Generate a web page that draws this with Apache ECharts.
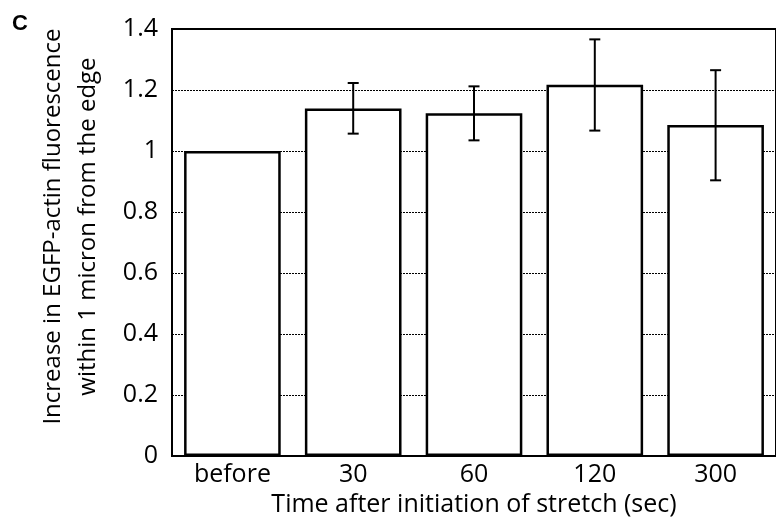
<!DOCTYPE html>
<html>
<head>
<meta charset="utf-8">
<script src="https://cdn.jsdelivr.net/npm/echarts@6/dist/echarts.min.js"></script>
<style>
  html, body { margin: 0; padding: 0; background: #fff; }
  #chart { width: 776px; height: 522px; }
</style>
</head>
<body>
<div id="chart"></div>
<script>
var categories = ['before', '30', '60', '120', '300'];
var means = [1.0, 1.139, 1.124, 1.217, 1.085];
var errLow = [null, 1.057, 1.035, 1.067, 0.904];
var errHigh = [null, 1.223, 1.212, 1.366, 1.265];
var yTicks = [0, 0.2, 0.4, 0.6, 0.8, 1, 1.2, 1.4];

var font = '"Open Sans", "Noto Sans", sans-serif';

var errData = [];
for (var i = 0; i < categories.length; i++) {
    if (errLow[i] != null) errData.push([i, errLow[i], errHigh[i]]);
}

var chart = echarts.init(document.getElementById('chart'));

var option = {
    animation: false,
    title: {
        text: 'C',
        left: 7,
        top: 8,
        textStyle: { fontFamily: 'Liberation Sans', fontWeight: 'bold', fontSize: 22, color: '#000' }
    },
    grid: {
        left: 172,
        top: 29,
        width: 607,
        height: 429,
        show: true,
        borderColor: '#000',
        borderWidth: 2,
        backgroundColor: 'transparent'
    },
    xAxis: {
        type: 'category',
        data: categories,
        name: 'Time after initiation of stretch (sec)',
        nameLocation: 'middle',
        nameGap: 33,
        nameTextStyle: { fontFamily: font, fontSize: 25, color: '#000' },
        axisLine: { lineStyle: { color: '#000', width: 2 } },
        axisTick: { show: false },
        axisLabel: { fontFamily: font, fontSize: 25, color: '#000', margin: 6 }
    },
    yAxis: {
        type: 'value',
        min: 0,
        max: 1.4,
        interval: 0.2,
        name: 'Increase in EGFP-actin fluorescence\nwithin 1 micron from the edge',
        nameLocation: 'middle',
        nameGap: 66,
        nameTextStyle: { fontFamily: font, fontSize: 24, color: '#000', lineHeight: 35, padding: [0, 0, 0, 32] },
        axisLine: { show: true, lineStyle: { color: '#000', width: 2 } },
        axisTick: { show: false },
        axisLabel: {
            fontFamily: font, fontSize: 25, color: '#000', margin: 14,
            formatter: function (v) {
                var t = yTicks.filter(function (k) { return Math.abs(k - v) < 1e-6; });
                return t.length ? String(t[0]) : '';
            }
        },
        splitLine: { show: true, lineStyle: { color: '#000', width: 1, type: [2, 1] } }
    },
    series: [
        {
            type: 'bar',
            data: means,
            barCategoryGap: '20%',
            itemStyle: { color: '#fff', borderColor: '#000', borderWidth: 2.5 }
        },
        {
            type: 'custom',
            data: errData,
            z: 5,
            renderItem: function (params, api) {
                var x = api.value(0);
                var lo = api.coord([x, api.value(1)]);
                var hi = api.coord([x, api.value(2)]);
                var hw = 5.5;
                var style = { stroke: '#000', lineWidth: 2 };
                return {
                    type: 'group',
                    children: [
                        { type: 'line', shape: { x1: hi[0], y1: hi[1], x2: lo[0], y2: lo[1] }, style: style },
                        { type: 'line', shape: { x1: hi[0] - hw, y1: hi[1], x2: hi[0] + hw, y2: hi[1] }, style: style },
                        { type: 'line', shape: { x1: lo[0] - hw, y1: lo[1], x2: lo[0] + hw, y2: lo[1] }, style: style }
                    ]
                };
            }
        }
    ]
};

chart.setOption(option);

window.onresize = chart.resize;
</script>
</body>
</html>
